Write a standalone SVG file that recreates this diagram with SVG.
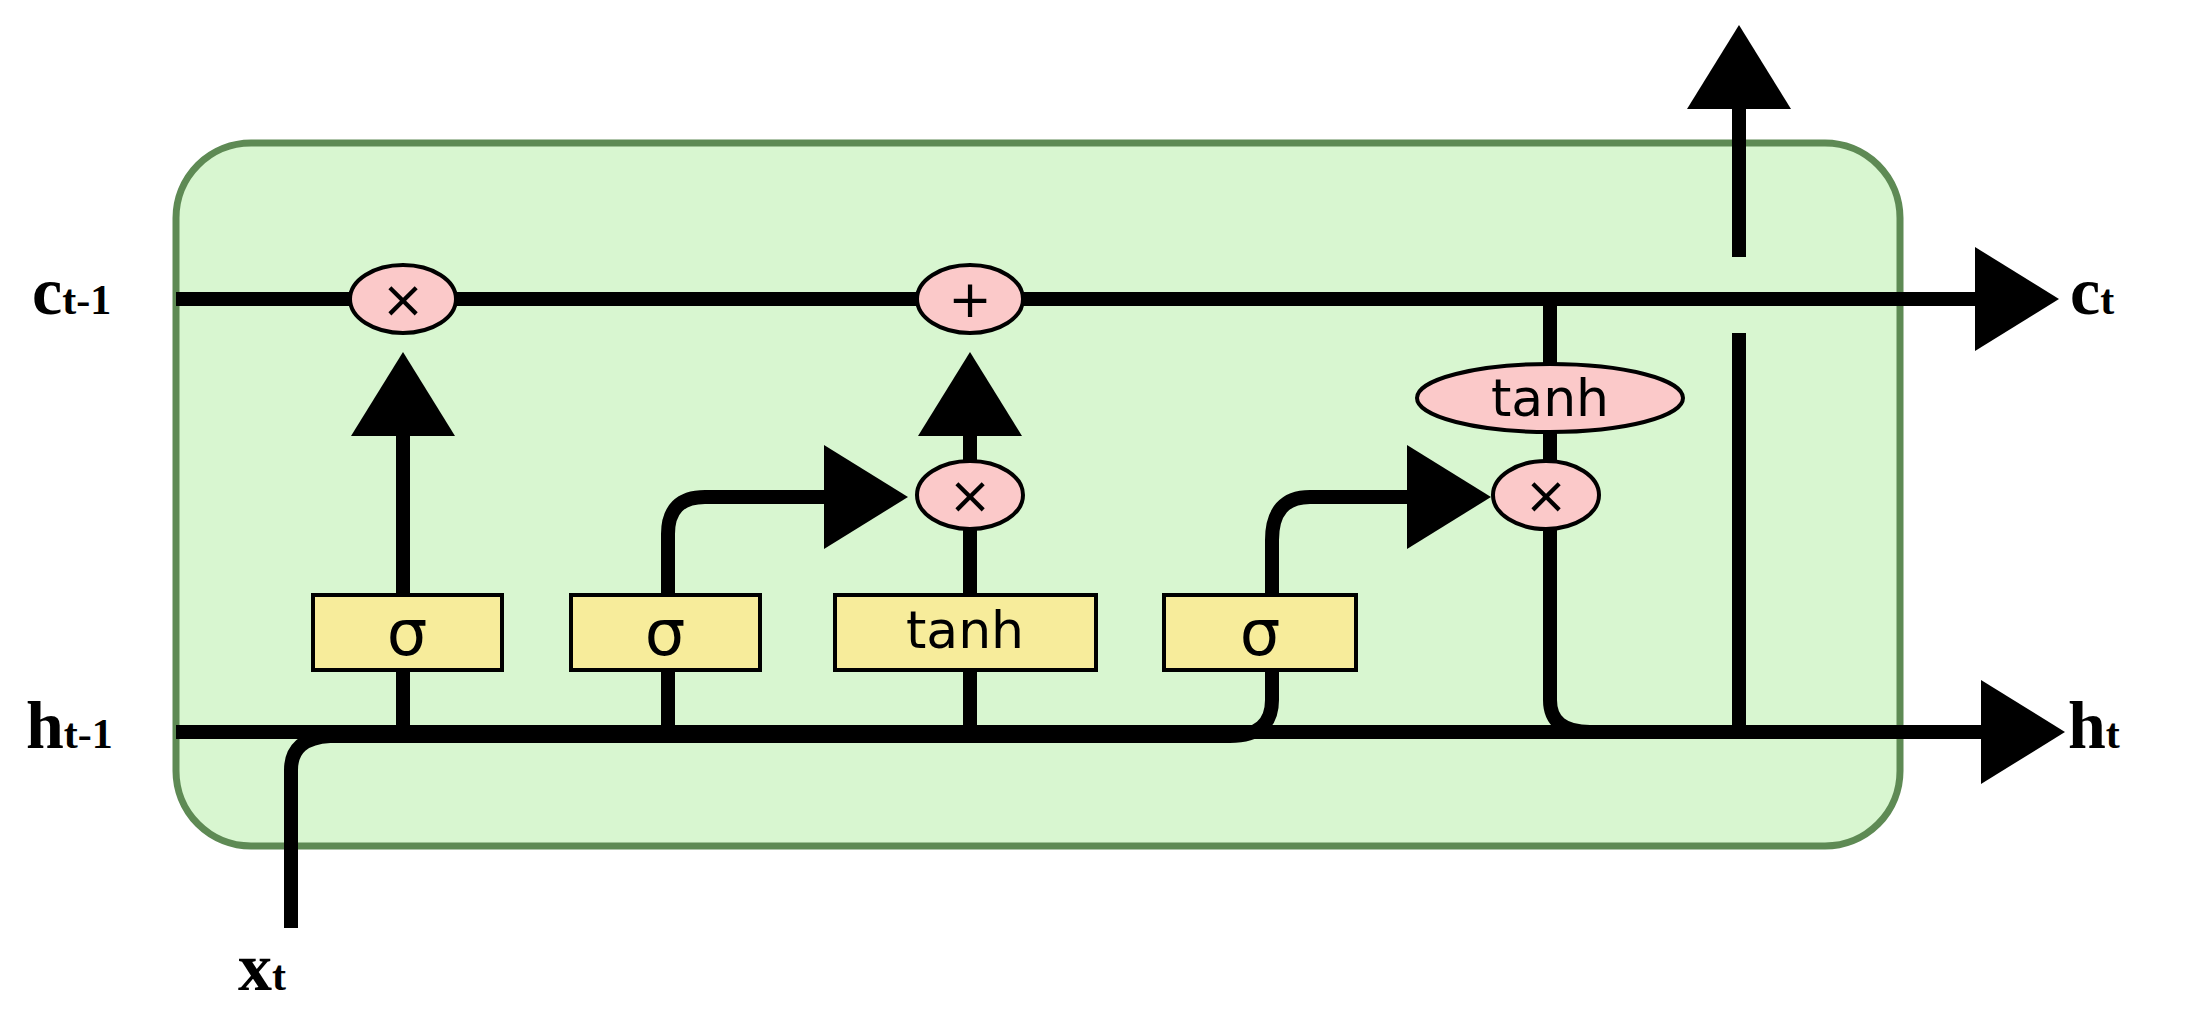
<svg xmlns="http://www.w3.org/2000/svg" width="2204" height="1011" viewBox="0 0 2204 1011">
<style>
.w{fill:none;stroke:#000;stroke-width:14}
.g{fill:#f7ec9b;stroke:#000;stroke-width:4}
.o{fill:#fbc9c9;stroke:#000;stroke-width:4}
.t{font-family:"DejaVu Sans",sans-serif;font-size:52px;text-anchor:middle}
.sg{font-size:64px}
.l{font-family:"Liberation Serif",serif;font-size:68px;font-weight:bold}
.s{font-size:42px}
</style>
<defs><marker id="a" markerUnits="userSpaceOnUse" markerWidth="84" markerHeight="104" refX="1" refY="52" orient="auto" overflow="visible"><path d="M0,0 L84,52 L0,104Z"/></marker></defs>
<g id="cell"><rect x="176" y="143" width="1724" height="703" rx="75" fill="#d8f6d0" stroke="#5e8a54" stroke-width="7"/></g>
<g id="connectors">
<path class="w" d="M176,299 H1976" marker-end="url(#a)"/>
<path class="w" d="M176,732 H1982" marker-end="url(#a)"/>
<path class="w" d="M291,928 V770 Q291,738 330,736 H1230 Q1272,736 1272,700 V540 Q1272,497 1310,497 H1408" marker-end="url(#a)"/>
<path class="w" d="M403,595 V435" marker-end="url(#a)"/>
<path class="w" d="M668,732 V534 Q668,497 705,497 H825" marker-end="url(#a)"/>
<path class="w" d="M970,732 V495"/>
<path class="w" d="M970,495 V435" marker-end="url(#a)"/>
<path class="w" d="M403,732 V670"/>
<path class="w" d="M1550,299 V495 V700 Q1550,732 1590,732 H1739"/>
<path class="w" d="M1739,732 V333"/>
<path class="w" d="M1739,257 V108" marker-end="url(#a)"/>
</g>
<g id="forget_mul"><ellipse class="o" cx="403" cy="299" rx="53" ry="34"/><text class="t" x="403" y="317">×</text></g>
<g id="add"><ellipse class="o" cx="970" cy="299" rx="53" ry="34"/><text class="t" x="970" y="317">+</text></g>
<g id="input_mul"><ellipse class="o" cx="970" cy="495" rx="53" ry="34"/><text class="t" x="970" y="513">×</text></g>
<g id="output_mul"><ellipse class="o" cx="1546" cy="495" rx="53" ry="34"/><text class="t" x="1546" y="513">×</text></g>
<g id="tanh_out"><ellipse class="o" cx="1550" cy="398" rx="133" ry="34"/><text class="t" x="1550" y="416">tanh</text></g>
<g id="sigma1"><rect class="g" x="313" y="595" width="189" height="75"/><text class="t sg" x="407" y="655">σ</text></g>
<g id="sigma2"><rect class="g" x="571" y="595" width="189" height="75"/><text class="t sg" x="665" y="655">σ</text></g>
<g id="tanh_gate"><rect class="g" x="835" y="595" width="261" height="75"/><text class="t" x="965" y="648">tanh</text></g>
<g id="sigma3"><rect class="g" x="1164" y="595" width="192" height="75"/><text class="t sg" x="1260" y="655">σ</text></g>
<g id="labels">
<text class="l" x="32" y="314">c<tspan class="s">t-1</tspan></text>
<text class="l" x="2070" y="314">c<tspan class="s">t</tspan></text>
<text class="l" x="26" y="748">h<tspan class="s">t-1</tspan></text>
<text class="l" x="2068" y="748">h<tspan class="s">t</tspan></text>
<text class="l" x="238" y="990">x<tspan class="s">t</tspan></text>
</g>
</svg>
